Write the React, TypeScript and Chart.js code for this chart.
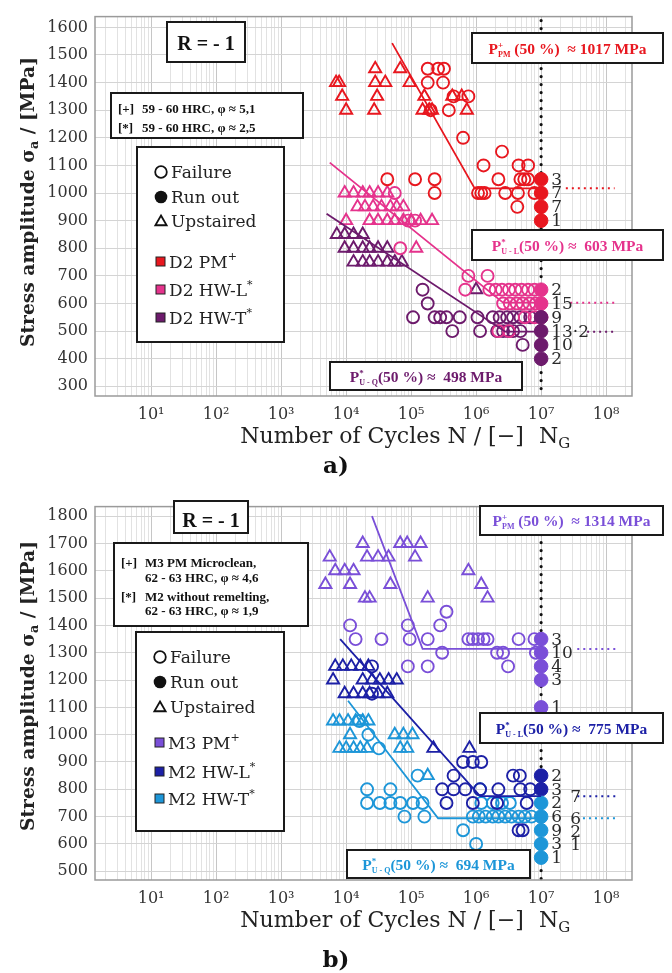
import React, { useEffect, useRef } from 'react';
import { Chart, registerables } from 'chart.js';

Chart.register(...registerables);

type Pt = [number, number]; // [N cycles, stress amplitude in MPa]

// ================= Panel a) : D2 =================
const A_PM_FAIL: Pt[] = [
  [1.8e5, 1450], [2.6e5, 1450], [3.2e5, 1450],
  [1.8e5, 1400], [3.1e5, 1400],
  [4.5e5, 1350], [7.6e5, 1350],
  [2.0e5, 1300], [3.8e5, 1300],
  [6.3e5, 1200], [2.5e6, 1150],
  [1.3e6, 1100], [4.5e6, 1100], [6.3e6, 1100],
  [4.3e4, 1050], [1.15e5, 1050], [2.3e5, 1050], [2.2e6, 1050], [4.8e6, 1050], [5.5e6, 1050], [6.3e6, 1050],
  [2.3e5, 1000], [1.07e6, 1000], [1.2e6, 1000], [1.35e6, 1000], [2.8e6, 1000], [4.4e6, 1000], [7.9e6, 1000],
  [4.3e6, 950],
];
const A_PM_UP: Pt[] = [
  [7.0e3, 1400], [7.8e3, 1400], [8.7e3, 1350], [1.0e4, 1300],
  [2.8e4, 1450], [2.8e4, 1400], [4.0e4, 1400], [3.0e4, 1350], [2.7e4, 1300],
  [6.8e4, 1450], [9.5e4, 1400], [1.6e5, 1350], [1.5e5, 1300], [1.9e5, 1300], [2.1e5, 1300],
  [4.3e5, 1350], [6.0e5, 1350], [7.2e5, 1300],
];
const A_PM_RUN: Pt[] = [[1e7, 1050], [1e7, 1000], [1e7, 950], [1e7, 900]];
const A_PM_FIT: Pt[] = [[5.1e4, 1543], [9.5e5, 1017], [1e7, 1017]];
const A_PM_EXT: Pt[] = [[2.4e7, 1017], [1.35e8, 1017]];

const A_HL_FAIL: Pt[] = [
  [5.6e4, 1000], [9.0e4, 900], [1.15e5, 900], [6.8e4, 800],
  [7.6e5, 700], [1.5e6, 700],
  [6.8e5, 650], [1.6e6, 650], [2.0e6, 650], [2.5e6, 650], [3.2e6, 650], [4.0e6, 650], [5.0e6, 650], [6.3e6, 650], [7.9e6, 650],
  [2.6e6, 600], [3.3e6, 600], [4.2e6, 600], [5.2e6, 600], [6.6e6, 600], [8.3e6, 600],
  [5.6e6, 550], [7.9e6, 550], [2.2e6, 500], [3.2e6, 500],
];
const A_HL_UP: Pt[] = [
  [9.5e3, 1000], [1.3e4, 1000], [1.8e4, 1000], [2.3e4, 1000], [3.1e4, 1000], [4.3e4, 1000],
  [1.5e4, 950], [1.95e4, 950], [2.6e4, 950], [3.5e4, 950], [4.8e4, 950], [6.0e4, 950], [7.6e4, 950],
  [1.0e4, 900], [2.3e4, 900], [3.1e4, 900], [4.3e4, 900], [5.6e4, 900], [7.6e4, 900], [1.0e5, 900], [1.4e5, 900], [2.1e5, 900],
  [1.2e5, 800],
];
const A_HL_RUN: Pt[] = [[1e7, 650], [1e7, 600], [1e7, 550]];
const A_HL_FIT: Pt[] = [[5.6e3, 1110], [2.6e6, 603], [1e7, 603]];
const A_HL_EXT: Pt[] = [[2.8e7, 603], [1.35e8, 603]];

const A_HT_FAIL: Pt[] = [
  [1.5e5, 650], [1.8e5, 600],
  [1.07e5, 550], [2.3e5, 550], [2.8e5, 550], [3.5e5, 550], [5.6e5, 550], [1.05e6, 550], [1.8e6, 550],
  [2.3e6, 550], [3.0e6, 550], [3.7e6, 550], [4.8e6, 550], [6.8e6, 550],
  [4.3e5, 500], [1.15e6, 500], [2.1e6, 500], [2.6e6, 500], [3.1e6, 500], [3.7e6, 500], [4.8e6, 500],
  [5.2e6, 450],
];
const A_HT_UP: Pt[] = [
  [7.2e3, 850], [9.5e3, 850], [1.3e4, 850], [1.8e4, 850],
  [9.5e3, 800], [1.3e4, 800], [1.8e4, 800], [2.3e4, 800], [3.1e4, 800], [4.3e4, 800],
  [1.3e4, 750], [1.8e4, 750], [2.3e4, 750], [3.1e4, 750], [4.3e4, 750], [5.6e4, 750], [7.2e4, 750],
  [1.0e6, 650],
];
const A_HT_RUN: Pt[] = [[1e7, 550], [1e7, 500], [1e7, 450], [1e7, 400]];
const A_HT_FIT: Pt[] = [[5.0e3, 925], [2.8e6, 498], [1e7, 498]];
const A_HT_EXT: Pt[] = [[5.1e7, 498], [1.35e8, 498]];

const A_COUNTS: [number, string][] = [
  [1050, '3'], [1000, '7'], [950, '7'], [900, '1'], [650, '2'], [600, '15'], [550, '9'], [500, '13·2'], [450, '10'], [400, '2'],
];

// ================= Panel b) : M3 / M2 =================
const B_PM_FAIL: Pt[] = [
  [1.15e4, 1400], [8.9e4, 1400], [2.8e5, 1400], [3.5e5, 1450],
  [1.4e4, 1350], [3.5e4, 1350], [9.5e4, 1350], [1.8e5, 1350], [7.6e5, 1350], [8.9e5, 1350], [1.07e6, 1350],
  [1.3e6, 1350], [1.5e6, 1350], [4.5e6, 1350], [7.9e6, 1350],
  [3.0e5, 1300], [2.1e6, 1300], [2.6e6, 1300], [8.3e6, 1300],
  [8.9e4, 1250], [1.8e5, 1250], [3.1e6, 1250],
];
const B_PM_UP: Pt[] = [
  [1.8e4, 1700], [6.8e4, 1700], [8.7e4, 1700], [1.4e5, 1700],
  [5.6e3, 1650], [2.1e4, 1650], [3.1e4, 1650], [4.5e4, 1650], [1.15e5, 1650],
  [6.8e3, 1600], [9.5e3, 1600], [1.3e4, 1600], [7.6e5, 1600],
  [4.8e3, 1550], [1.15e4, 1550], [4.8e4, 1550], [1.2e6, 1550],
  [1.95e4, 1500], [2.3e4, 1500], [1.8e5, 1500], [1.5e6, 1500],
];
const B_PM_RUN: Pt[] = [[1e7, 1350], [1e7, 1300], [1e7, 1250], [1e7, 1200], [1e7, 1100]];
const B_PM_FIT: Pt[] = [[2.5e4, 1800], [1.5e5, 1314], [1e7, 1314]];
const B_PM_EXT: Pt[] = [[3.6e7, 1314], [1.5e8, 1314]];

const B_HL_FAIL: Pt[] = [
  [2.5e4, 1250], [2.5e4, 1150],
  [6.3e5, 900], [8.9e5, 900], [1.2e6, 900],
  [4.5e5, 850], [3.7e6, 850], [4.7e6, 850],
  [3.0e5, 800], [4.5e5, 800], [6.8e5, 800], [1.15e6, 800], [2.2e6, 800], [4.8e6, 800], [6.8e6, 800],
  [3.5e5, 750], [8.9e5, 750], [2.1e6, 750], [6.0e6, 750],
  [4.5e6, 650], [5.2e6, 650],
];
const B_HL_UP: Pt[] = [
  [6.8e3, 1250], [8.9e3, 1250], [1.2e4, 1250], [1.65e4, 1250], [2.2e4, 1250],
  [6.3e3, 1200], [1.8e4, 1200], [2.5e4, 1200], [3.3e4, 1200], [4.5e4, 1200], [6.0e4, 1200],
  [9.5e3, 1150], [1.3e4, 1150], [1.8e4, 1150], [2.3e4, 1150], [3.1e4, 1150], [4.3e4, 1150],
  [2.2e5, 950], [7.9e5, 950],
];
const B_HL_RUN: Pt[] = [[1e7, 850], [1e7, 800]];
const B_HL_FIT: Pt[] = [[8.1e3, 1350], [1.15e6, 775], [1e7, 775]];
const B_HL_EXT: Pt[] = [[3.6e7, 775], [1.5e8, 775]];

const B_HT_FAIL: Pt[] = [
  [1.6e4, 1050], [2.2e4, 1000], [3.2e4, 950], [1.26e5, 850],
  [2.1e4, 800], [4.8e4, 800], [1.15e6, 800],
  [2.1e4, 750], [3.3e4, 750], [4.8e4, 750], [6.8e4, 750], [1.07e5, 750], [1.5e5, 750],
  [1.2e6, 750], [1.8e6, 750], [2.5e6, 750], [3.3e6, 750],
  [7.9e4, 700], [1.6e5, 700], [8.9e5, 700], [1.1e6, 700], [1.4e6, 700], [1.8e6, 700], [2.2e6, 700],
  [2.8e6, 700], [3.5e6, 700], [4.5e6, 700], [5.6e6, 700], [7.1e6, 700],
  [6.3e5, 650], [1.0e6, 600],
];
const B_HT_UP: Pt[] = [
  [6.3e3, 1050], [7.9e3, 1050], [1.07e4, 1050], [1.4e4, 1050], [1.8e4, 1050], [2.2e4, 1050],
  [1.15e4, 1000], [5.6e4, 1000], [7.6e4, 1000], [1.05e5, 1000],
  [7.9e3, 950], [1.0e4, 950], [1.3e4, 950], [1.65e4, 950], [2.1e4, 950], [6.8e4, 950], [8.7e4, 950],
  [1.8e5, 850],
];
const B_HT_RUN: Pt[] = [[1e7, 750], [1e7, 700], [1e7, 650], [1e7, 600], [1e7, 550]];
const B_HT_FIT: Pt[] = [[1.07e4, 1124], [2.6e5, 694], [1e7, 694]];
const B_HT_EXT: Pt[] = [[4.4e7, 694], [1.5e8, 694]];

const B_COUNTS: [number, string][] = [
  [1350, '3'], [1300, '10'], [1250, '4'], [1200, '3'], [1100, '1'],
  [850, '2'], [800, '3'], [750, '2'], [700, '6'], [650, '9'], [600, '3'], [550, '1'],
];
const B_COUNTS_2: [number, string][] = [[772, '7'], [694, '6'], [645, '2'], [598, '1']];

// ================= axes =================
const X_EXPONENTS = [1, 2, 3, 4, 5, 6, 7, 8];
const Y_TICKS_A = [300, 400, 500, 600, 700, 800, 900, 1000, 1100, 1200, 1300, 1400, 1500, 1600];
const Y_TICKS_B = [500, 600, 700, 800, 900, 1000, 1100, 1200, 1300, 1400, 1500, 1600, 1700, 1800];
const N_G = 1e7;
const X_MIN = 1.37;
const X_MAX = 2.5e8;

const SUP: Record<string, string> = { '0': '⁰', '1': '¹', '2': '²', '3': '³', '4': '⁴', '5': '⁵', '6': '⁶', '7': '⁷', '8': '⁸', '9': '⁹' };

const CM = '"DejaVu Serif", serif';
const TIMES = '"Liberation Serif", "Times New Roman", serif';

interface Series { name: string; mark: string; color: string; fail: Pt[]; up: Pt[]; run: Pt[]; fit: Pt[]; ext: Pt[] }
interface PBox { rect: number[]; color: string; sup: string; sub: string; rest: string }
interface MatLine { y: number; tag?: string; text: string }
interface PanelCfg {
  height: number; padTop: number; xAxisH: number;
  yMin: number; yMax: number; yTicks: number[];
  series: Series[];
  counts: [number, string][]; counts2: [number, string][];
  rBox: number[]; rBase: number;
  matBox: number[]; mat: MatLine[];
  legBox: number[]; legSymY: number[]; legSerY: number[];
  pBoxes: PBox[];
  yTitleCY: number; xTitleBase: number; tag: string; tagBase: number;
}

const RED = '#e8171f', PINK = '#e5338c', PURPLE = '#6d1b6c';
const VIOLET = '#7a4fd8', DBLUE = '#1c20a6', LBLUE = '#1d96d8';

const PANEL_A: PanelCfg = {
  height: 490, padTop: 9, xAxisH: 94,
  yMin: 265, yMax: 1639, yTicks: Y_TICKS_A,
  series: [
    { name: 'D2 PM', mark: '+', color: RED, fail: A_PM_FAIL, up: A_PM_UP, run: A_PM_RUN, fit: A_PM_FIT, ext: A_PM_EXT },
    { name: 'D2 HW-L', mark: '*', color: PINK, fail: A_HL_FAIL, up: A_HL_UP, run: A_HL_RUN, fit: A_HL_FIT, ext: A_HL_EXT },
    { name: 'D2 HW-T', mark: '*', color: PURPLE, fail: A_HT_FAIL, up: A_HT_UP, run: A_HT_RUN, fit: A_HT_FIT, ext: A_HT_EXT },
  ],
  counts: A_COUNTS, counts2: [],
  rBox: [167, 22, 245, 62], rBase: 50,
  matBox: [111, 93, 303, 138],
  mat: [{ y: 112.5, tag: '[+]', text: '59 - 60 HRC, φ ≈ 5,1' }, { y: 131.5, tag: '[*]', text: '59 - 60 HRC, φ ≈ 2,5' }],
  legBox: [137, 147, 284, 342], legSymY: [172, 197, 221], legSerY: [262, 290, 318],
  pBoxes: [
    { rect: [472, 33, 663, 63], color: RED, sup: '+', sub: 'PM', rest: ' (50 %)  ≈ 1017 MPa' },
    { rect: [472, 230, 663, 260], color: PINK, sup: '*', sub: 'U - L', rest: '(50 %) ≈  603 MPa' },
    { rect: [330, 362, 522, 390], color: PURPLE, sup: '*', sub: 'U - Q', rest: '(50 %) ≈  498 MPa' },
  ],
  yTitleCY: 202, xTitleBase: 443, tag: 'a)', tagBase: 473,
};

const PANEL_B: PanelCfg = {
  height: 483, padTop: 3, xAxisH: 93,
  yMin: 468, yMax: 1835, yTicks: Y_TICKS_B,
  series: [
    { name: 'M3 PM', mark: '+', color: VIOLET, fail: B_PM_FAIL, up: B_PM_UP, run: B_PM_RUN, fit: B_PM_FIT, ext: B_PM_EXT },
    { name: 'M2 HW-L', mark: '*', color: DBLUE, fail: B_HL_FAIL, up: B_HL_UP, run: B_HL_RUN, fit: B_HL_FIT, ext: B_HL_EXT },
    { name: 'M2 HW-T', mark: '*', color: LBLUE, fail: B_HT_FAIL, up: B_HT_UP, run: B_HT_RUN, fit: B_HT_FIT, ext: B_HT_EXT },
  ],
  counts: B_COUNTS, counts2: B_COUNTS_2,
  rBox: [174, 11, 248, 43], rBase: 37,
  matBox: [114, 53, 308, 136],
  mat: [
    { y: 76.5, tag: '[+]', text: 'M3 PM Microclean,' }, { y: 91.5, text: '62 - 63 HRC, φ ≈ 4,6' },
    { y: 110.5, tag: '[*]', text: 'M2 without remelting,' }, { y: 124.5, text: '62 - 63 HRC, φ ≈ 1,9' },
  ],
  legBox: [136, 142, 284, 341], legSymY: [167, 192, 217], legSerY: [253, 282, 309],
  pBoxes: [
    { rect: [480, 16, 663, 45], color: VIOLET, sup: '+', sub: 'PM', rest: ' (50 %)  ≈ 1314 MPa' },
    { rect: [480, 223, 663, 253], color: DBLUE, sup: '*', sub: 'U - L', rest: '(50 %) ≈  775 MPa' },
    { rect: [347, 360, 530, 388], color: LBLUE, sup: '*', sub: 'U - Q', rest: '(50 %) ≈  694 MPa' },
  ],
  yTitleCY: 196, xTitleBase: 437, tag: 'b)', tagBase: 477,
};

// ================= drawing helpers =================
type Run = { t: string; size: number; bold?: boolean; dy?: number; stay?: boolean };
const fontOf = (r: Run, fam: string) => `${r.bold ? 'bold ' : ''}${r.size}px ${fam}`;
function runsWidth(ctx: CanvasRenderingContext2D, runs: Run[], fam: string) {
  let w = 0;
  for (const r of runs) { ctx.font = fontOf(r, fam); if (!r.stay) w += ctx.measureText(r.t).width; }
  return w;
}
function drawRuns(ctx: CanvasRenderingContext2D, runs: Run[], x: number, y: number, align: string, fam: string, color: string) {
  const w = runsWidth(ctx, runs, fam);
  let cx = align === 'center' ? x - w / 2 : align === 'right' ? x - w : x;
  ctx.fillStyle = color; ctx.textAlign = 'left'; ctx.textBaseline = 'alphabetic';
  for (const r of runs) {
    ctx.font = fontOf(r, fam);
    ctx.fillText(r.t, cx, y + (r.dy || 0));
    if (!r.stay) cx += ctx.measureText(r.t).width;
  }
  return w;
}
function boxRect(ctx: CanvasRenderingContext2D, r: number[], lw = 2) {
  ctx.fillStyle = '#fff';
  ctx.fillRect(r[0], r[1], r[2] - r[0], r[3] - r[1]);
  ctx.strokeStyle = '#1a1a1a'; ctx.lineWidth = lw;
  ctx.strokeRect(r[0], r[1], r[2] - r[0], r[3] - r[1]);
}
function drawTriangle(ctx: CanvasRenderingContext2D, x: number, y: number, r: number) {
  ctx.beginPath();
  ctx.moveTo(x, y - r);
  ctx.lineTo(x + r * 0.866, y + r * 0.5);
  ctx.lineTo(x - r * 0.866, y + r * 0.5);
  ctx.closePath();
}

function decoPlugin(cfg: PanelCfg) {
  return {
    id: 'deco',
    beforeDatasetsDraw(chart: any) {
      const { ctx, chartArea: ca, scales } = chart;
      const px = scales.x.getPixelForValue(N_G);
      ctx.save();
      ctx.strokeStyle = '#111'; ctx.lineWidth = 3.2; ctx.lineCap = 'round';
      ctx.setLineDash([0, 8]);
      ctx.beginPath(); ctx.moveTo(px, ca.top + 4); ctx.lineTo(px, ca.bottom); ctx.stroke();
      ctx.restore();
    },
    afterDatasetsDraw(chart: any) {
      const { ctx, chartArea: ca, scales } = chart;
      const xs = scales.x, ys = scales.y;
      ctx.save();
      // frame
      ctx.strokeStyle = '#9a9a9a'; ctx.lineWidth = 1.5;
      ctx.strokeRect(ca.left, ca.top, ca.right - ca.left, ca.bottom - ca.top);

      // run-out counts
      const px = xs.getPixelForValue(N_G);
      ctx.font = `17px ${CM}`; ctx.fillStyle = '#2a2a2a'; ctx.textAlign = 'left'; ctx.textBaseline = 'middle';
      for (const [v, t] of cfg.counts) ctx.fillText(t, px + 10, ys.getPixelForValue(v) + 1);
      for (const [v, t] of cfg.counts2) ctx.fillText(t, px + 29, ys.getPixelForValue(v) + 1);

      // R box
      boxRect(ctx, cfg.rBox);
      drawRuns(ctx, [{ t: 'R = - 1', size: 20, bold: true }], (cfg.rBox[0] + cfg.rBox[2]) / 2, cfg.rBase, 'center', TIMES, '#111');

      // material box
      boxRect(ctx, cfg.matBox);
      for (const m of cfg.mat) {
        if (m.tag) drawRuns(ctx, [{ t: m.tag, size: 13, bold: true }], cfg.matBox[0] + 7, m.y, 'left', TIMES, '#111');
        drawRuns(ctx, [{ t: m.text, size: 13, bold: true }], cfg.matBox[0] + 31, m.y, 'left', TIMES, '#111');
      }

      // legend
      const lb = cfg.legBox;
      boxRect(ctx, lb);
      const sx = lb[0] + 24, tx = lb[0] + 34;
      ctx.strokeStyle = '#111'; ctx.fillStyle = '#111'; ctx.lineWidth = 1.8;
      ctx.beginPath(); ctx.arc(sx, cfg.legSymY[0], 5.8, 0, Math.PI * 2); ctx.stroke();
      ctx.beginPath(); ctx.arc(sx, cfg.legSymY[1], 6.3, 0, Math.PI * 2); ctx.fill();
      drawTriangle(ctx, sx, cfg.legSymY[2] + 1, 6.5); ctx.stroke();
      const legNames = ['Failure', 'Run out', 'Upstaired'];
      legNames.forEach((n, i) => drawRuns(ctx, [{ t: n, size: 17 }], tx, cfg.legSymY[i] + 6, 'left', CM, '#222'));
      cfg.series.forEach((s, i) => {
        const y = cfg.legSerY[i];
        ctx.fillStyle = s.color; ctx.fillRect(sx - 5, y - 5, 9, 9);
        ctx.strokeStyle = '#222'; ctx.lineWidth = 1; ctx.strokeRect(sx - 5, y - 5, 9, 9);
        drawRuns(ctx, [{ t: s.name, size: 17 }, { t: s.mark, size: 11, dy: -8 }], tx - 2, y + 6, 'left', CM, '#222');
      });

      // P boxes
      for (const b of cfg.pBoxes) {
        boxRect(ctx, b.rect);
        const runs: Run[] = [
          { t: 'P', size: 15.5, bold: true },
          { t: b.sup, size: 9, bold: true, dy: -6, stay: true },
          { t: b.sub, size: 8, bold: true, dy: 3 },
          { t: b.rest, size: 15.5, bold: true },
        ];
        drawRuns(ctx, runs, (b.rect[0] + b.rect[2]) / 2, (b.rect[1] + b.rect[3]) / 2 + 5.5, 'center', TIMES, b.color);
      }

      // y-axis title
      ctx.save();
      ctx.translate(34, cfg.yTitleCY);
      ctx.rotate(-Math.PI / 2);
      const yt: Run[] = [
        { t: 'Stress amplitude σ', size: 19, bold: true },
        { t: 'a', size: 13, bold: true, dy: 4 },
        { t: ' / [MPa]', size: 19, bold: true },
      ];
      const w = runsWidth(ctx, yt, CM);
      ctx.scale(290 / w, 1);
      drawRuns(ctx, yt, 0, 0, 'center', CM, '#222');
      ctx.restore();

      // x-axis title and N_G
      drawRuns(ctx, [{ t: 'Number of Cycles N / [−]', size: 22 }], 382, cfg.xTitleBase, 'center', CM, '#222');
      drawRuns(ctx, [{ t: 'N', size: 22 }, { t: 'G', size: 15, dy: 5 }], 539, cfg.xTitleBase, 'left', CM, '#222');

      // panel tag
      drawRuns(ctx, [{ t: cfg.tag, size: 23, bold: true }], 336, cfg.tagBase, 'center', CM, '#111');
      ctx.restore();
    },
  };
}

function buildDatasets(series: Series[]) {
  const xy = (a: Pt[]) => a.map(([x, y]) => ({ x, y }));
  const ds: any[] = [];
  series.forEach((s) => {
    ds.push({ data: xy(s.fit), showLine: true, borderColor: s.color, borderWidth: 1.8, pointRadius: 0, fill: false });
    ds.push({ data: xy(s.ext), showLine: true, borderColor: s.color, borderWidth: 2, borderDash: [2, 4], pointRadius: 0, fill: false });
  });
  [...series].reverse().forEach((s) => ds.push({
    data: xy(s.run), pointStyle: 'circle', pointRadius: 6.8, backgroundColor: s.color, borderColor: s.color, borderWidth: 1,
  }));
  series.forEach((s) => ds.push({
    data: xy(s.fail), pointStyle: 'circle', pointRadius: 6, backgroundColor: 'rgba(0,0,0,0)', borderColor: s.color, borderWidth: 1.9,
  }));
  series.forEach((s) => ds.push({
    data: xy(s.up), pointStyle: 'triangle', pointRadius: 7, backgroundColor: 'rgba(0,0,0,0)', borderColor: s.color, borderWidth: 1.9,
  }));
  return ds;
}

const isDecade = (v: number) => { const e = Math.log10(v); return Math.abs(e - Math.round(e)) < 1e-6; };

function Panel({ cfg, top }: { cfg: PanelCfg; top: number }) {
  const ref = useRef<HTMLCanvasElement>(null);
  useEffect(() => {
    const chart = new Chart(ref.current as HTMLCanvasElement, {
      type: 'scatter',
      data: { datasets: buildDatasets(cfg.series) },
      options: {
        responsive: false,
        animation: false,
        devicePixelRatio: 1,
        events: [],
        layout: { padding: { top: cfg.padTop, right: 40, left: 0, bottom: 0 } },
        plugins: { legend: { display: false }, tooltip: { enabled: false } },
        scales: {
          x: {
            type: 'logarithmic', min: X_MIN, max: X_MAX,
            afterBuildTicks: (sc: any) => {
              const t: any[] = [];
              for (let n = 0; n <= 8; n++) for (let k = 1; k <= 9; k++) {
                const v = k * Math.pow(10, n);
                if (v >= X_MIN && v <= X_MAX) t.push({ value: v });
              }
              sc.ticks = t;
            },
            afterFit: (sc: any) => { sc.height = cfg.xAxisH; },
            grid: {
              drawTicks: false, lineWidth: 1,
              color: (c: any) => (c.tick && isDecade(c.tick.value) ? '#c6c6c6' : '#e2e2e2'),
            },
            border: { display: false },
            ticks: {
              autoSkip: false, maxRotation: 0, minRotation: 0, padding: 9, color: '#333',
              font: { family: CM, size: 16 },
              callback: (v: any) => {
                const val = Number(v);
                if (!isDecade(val)) return '';
                const e = Math.round(Math.log10(val));
                return X_EXPONENTS.includes(e) ? '10' + SUP[String(e)] : '';
              },
            },
          },
          y: {
            type: 'linear', min: cfg.yMin, max: cfg.yMax,
            afterBuildTicks: (sc: any) => { sc.ticks = cfg.yTicks.map((v) => ({ value: v })); },
            afterFit: (sc: any) => { sc.width = 95; },
            grid: { drawTicks: false, color: '#d4d4d4', lineWidth: 1 },
            border: { display: false },
            ticks: { padding: 7, color: '#333', font: { family: CM, size: 16 }, callback: (v: any) => String(v) },
          },
        },
      },
      plugins: [decoPlugin(cfg)],
    } as any);
    return () => chart.destroy();
  }, [cfg]);
  return (
    <canvas
      ref={ref}
      width={672}
      height={cfg.height}
      style={{ position: 'absolute', left: 0, top, width: 672, height: cfg.height }}
    />
  );
}

export default function App() {
  return (
    <div style={{ position: 'absolute', left: 0, top: 0, width: 672, height: 973, background: '#fff', overflow: 'hidden' }}>
      <Panel cfg={PANEL_A} top={0} />
      <Panel cfg={PANEL_B} top={490} />
    </div>
  );
}
